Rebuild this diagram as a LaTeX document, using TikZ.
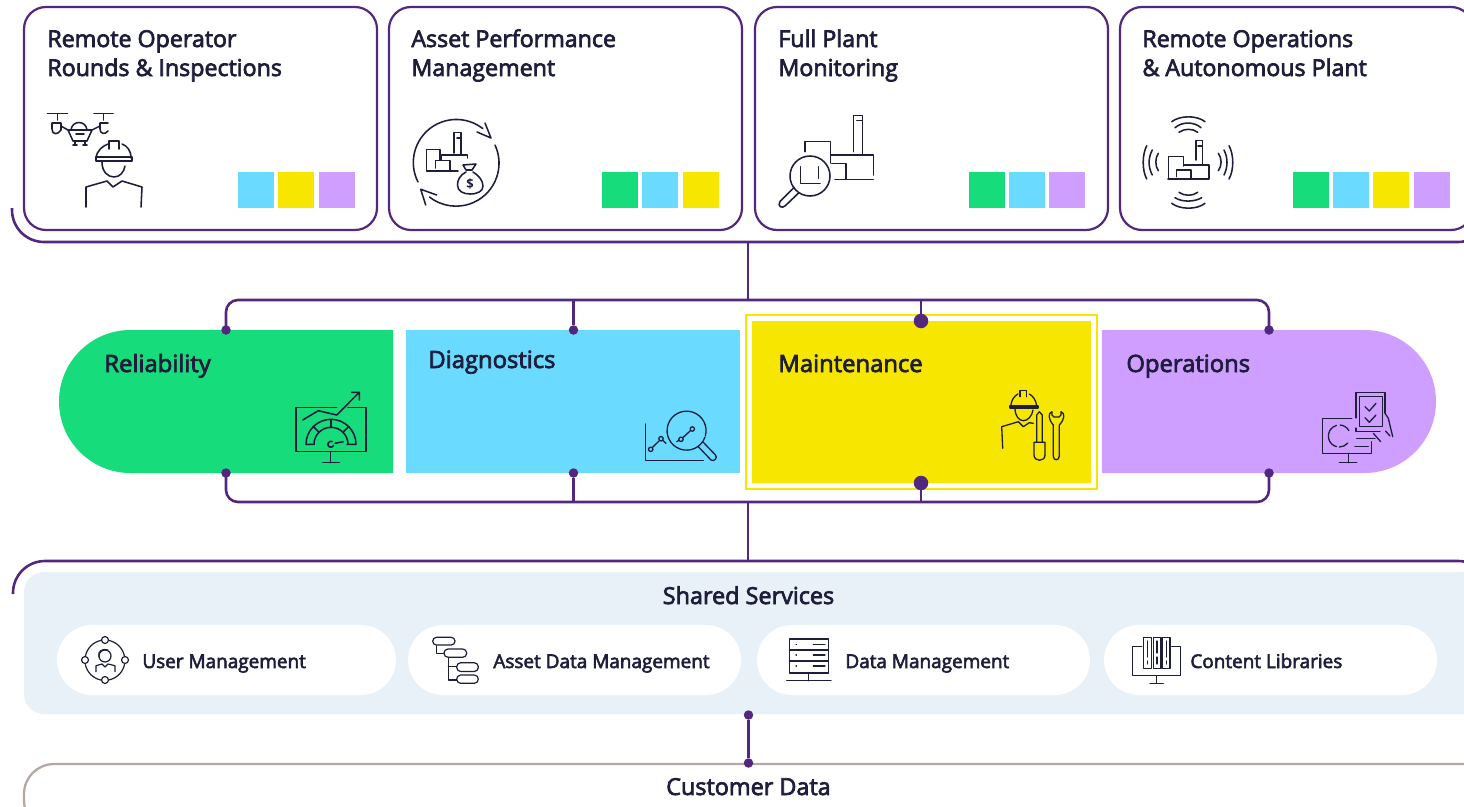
\documentclass[tikz,border=0pt]{standalone}
\usepackage{fontspec}
\usetikzlibrary{shapes.misc,positioning}
\setmainfont{Open Sans}
\newfontfamily\labf[FakeBold=3]{Open Sans}
\definecolor{vio}{HTML}{52287F}
\definecolor{ink}{HTML}{1E1E3C}
\definecolor{cgreen}{HTML}{16DC7B}
\definecolor{ccyan}{HTML}{6BDAFF}
\definecolor{cyel}{HTML}{F6E600}
\definecolor{cpur}{HTML}{CF9FFF}
\definecolor{cshare}{HTML}{E8F1F7}
\definecolor{ctaupe}{HTML}{B4A8A4}
\tikzset{
 card/.style={draw=vio,line width=2.2pt,fill=white,rounded corners=22pt,minimum width=353pt,minimum height=223pt,inner sep=0pt},
 swatch/.style={minimum width=36pt,minimum height=36pt,inner sep=0pt},
 band/.style={minimum width=334pt,minimum height=143pt,inner sep=0pt},
 pill/.style={fill=white,rounded rectangle,minimum height=70pt,inner sep=0pt},
 wire/.style={draw=vio,line width=2.6pt},
 dotS/.style={circle,fill=vio,minimum size=9.5pt,inner sep=0pt},
 dotL/.style={circle,fill=vio,minimum size=14.5pt,inner sep=0pt},
 head/.style={anchor=base west,xshift=-0.8pt,text=ink,font=\labf\fontsize{23.2pt}{26pt}\selectfont,inner sep=0pt},
 bandhead/.style={anchor=base west,xshift=-0.8pt,text=ink,font=\labf\fontsize{23.8pt}{26pt}\selectfont,inner sep=0pt},
 sub/.style={anchor=base west,xshift=-0.8pt,text=ink,font=\labf\fontsize{18.95pt}{22pt}\selectfont,inner sep=0pt},
 mid/.style={anchor=base,text=ink,font=\labf\fontsize{23.4pt}{26pt}\selectfont,inner sep=0pt},
 icon/.style={draw=ink,line width=1.55pt,line cap=round,line join=round},
 iconmid/.style={draw=ink,line width=1.3pt,line cap=round,line join=round},
 iconthin/.style={draw=ink,line width=1.2pt,line cap=round,line join=round},
}
\begin{document}
\begin{tikzpicture}[x=1pt,y=-1pt]
\useasboundingbox (0,0) rectangle (1464,806);
\clip (0,0) rectangle (1464,806);
\fill[white] (0,0) rectangle (1464,806);

% top bracket
\coordinate (tbL) at (12,208);
\coordinate (tbC) at (12,242);
\coordinate (tbE) at (1490,242);
\coordinate (tbR) at (1490,208);
\coordinate (tbT) at (748,242);
\draw[wire,rounded corners=32pt] (tbL) -- (tbC) -- (tbE) -- (tbR);
% cards
\node[card] (c1) at (200.5,118.5) {};
\node[card] (c2) at (565.5,118.5) {};
\node[card] (c3) at (931.5,118.5) {};
\node[card] (c4) at (1296.5,118.5) {};
\node[head] (t1a) at (48,47) {Remote Operator};
\node[head] (t1b) at (48,76) {Rounds \& Inspections};
\node[head] (t2a) at (412,47) {Asset Performance};
\node[head] (t2b) at (412,76) {Management};
\node[head] (t3a) at (779,47) {Full Plant};
\node[head] (t3b) at (779,76) {Monitoring};
\node[head] (t4a) at (1143,47) {Remote Operations};
\node[head] (t4b) at (1143,76) {\& Autonomous Plant};
% swatches
\node[swatch,fill=ccyan] (s11) at (256,190) {};
\node[swatch,fill=cyel] (s12) at (296,190) {};
\node[swatch,fill=cpur] (s13) at (337,190) {};
\node[swatch,fill=cgreen] (s21) at (620,190) {};
\node[swatch,fill=ccyan] (s22) at (660,190) {};
\node[swatch,fill=cyel] (s23) at (701,190) {};
\node[swatch,fill=cgreen] (s31) at (987,190) {};
\node[swatch,fill=ccyan] (s32) at (1027,190) {};
\node[swatch,fill=cpur] (s33) at (1067,190) {};
\node[swatch,fill=cgreen] (s41) at (1310.5,190) {};
\node[swatch,fill=ccyan] (s42) at (1351,190) {};
\node[swatch,fill=cyel] (s43) at (1391,190) {};
\node[swatch,fill=cpur] (s44) at (1432,190) {};

% bands
\node[band,fill=cgreen,rounded rectangle,rounded rectangle east arc=none] (b1) at (226,401.5) {};
\node[band,fill=ccyan] (b2) at (573,401.5) {};
\node[draw=cyel,line width=1.8pt,fill=white,minimum width=351pt,minimum height=174pt,inner sep=0pt] (b3f) at (921.5,402) {};
\node[fill=cyel,minimum width=339pt,minimum height=162pt,inner sep=0pt] (b3) at (921.5,402) {};
\node[band,fill=cpur,rounded rectangle,rounded rectangle west arc=none] (b4) at (1269,401.5) {};
\node[bandhead] (l1) at (105,372) {Reliability};
\node[bandhead] (l2) at (429,368) {Diagnostics};
\node[bandhead] (l3) at (779,372) {Maintenance};
\node[bandhead] (l4) at (1127,372) {Operations};

% buses
\coordinate (u0) at (748,300);
\coordinate (u2) at (573.5,300);
\coordinate (u3) at (921,300);
\coordinate (d0) at (748,502);
\coordinate (d2) at (573.5,502);
\coordinate (d3) at (921,502);
\node[dotS] (a1) at (226,330) {};
\node[dotS] (a2) at (573.5,330) {};
\node[dotL] (a3) at (921,321) {};
\node[dotS] (a4) at (1269,330) {};
\node[dotS] (e1) at (226,473) {};
\node[dotS] (e2) at (573.5,473) {};
\node[dotL] (e3) at (921,483) {};
\node[dotS] (e4) at (1269,473) {};
\draw[wire,rounded corners=12pt] (a1.center) |- (u0) -| (a4.center);
\draw[wire,rounded corners=12pt] (e1.center) |- (d0) -| (e4.center);
\draw[wire] (tbT) -- (u0);
\draw[wire] (u2) -- (a2);
\draw[wire] (u3) -- (a3);
\draw[wire] (d2) -- (e2);
\draw[wire] (d3) -- (e3);

% shared
\coordinate (sbL) at (13,594);
\coordinate (sbC) at (13,561);
\coordinate (sbE) at (1490,561);
\coordinate (sbR) at (1490,594);
\coordinate (sbT) at (748,561);
\draw[wire,rounded corners=32pt] (sbL) -- (sbC) -- (sbE) -- (sbR);
\draw[wire] (d0) -- (sbT);
\node[fill=cshare,rounded corners=20pt,minimum width=1470pt,minimum height=142pt,inner sep=0pt] (sh) at (759,643) {};
\node[mid] (shT) at (748.5,604) {Shared Services};
\node[pill,minimum width=339pt] (p1) at (226.5,660) {};
\node[pill,minimum width=333pt] (p2) at (574.5,660) {};
\node[pill,minimum width=333pt] (p3) at (923.5,660) {};
\node[pill,minimum width=333pt] (p4) at (1270.5,660) {};
\node[sub] (q1) at (143,668) {User Management};
\node[sub] (q2) at (494,668) {Asset Data Management};
\node[sub] (q3) at (846,668) {Data Management};
\node[sub] (q4) at (1191,668) {Content Libraries};
% customer
\node[draw=ctaupe,line width=2.3pt,fill=white,rounded corners=30pt,minimum width=1470pt,minimum height=66pt,inner sep=0pt] (cu) at (759,797) {};
\node[mid] (cuT) at (748.5,795) {Customer Data};
\node[dotS] (f1) at (748.5,715) {};
\node[dotS] (f2) at (748.5,763) {};
\draw[wire] (f1) -- (f2);

% ---------- icon 1: drone and worker
\path[icon] (47.5,113.5) -- (67.5,113.5) (94,113.5) -- (113,113.5) (57.5,114) -- (57.5,120) (103.5,114) -- (103.5,120);
\path[icon] (61,123) -- (52,123) -- (52,129) .. controls (52,135) and (58,135) .. (61,130) -- (61,123);
\path[icon] (108,123) -- (100,123) -- (100,129) .. controls (100,134) and (105,135) .. (108,131);
\path[icon] (61,126) -- (68,130) -- (92,130) -- (100,126);
\path[icon] (68,130) -- (73,141) -- (87,141) -- (92,130);
\path[icon] (71,130) .. controls (72,120) and (86,120) .. (87,130);
\path[icon] (76,134) -- (84,134) (75,141) -- (75,145) (73,145) -- (77,145) (85,141) -- (85,145) (83,145) -- (87,145);
\path[icon] (109,149) -- (109,141) -- (119,141) -- (119,149);
\path[icon] (96,158) .. controls (97,150) and (103,146) .. (108,144);
\path[icon] (122,144) .. controls (127,146) and (131,150) .. (131,158);
\path[icon] (96,157) rectangle (132,161);
\path[icon] (102,162) .. controls (102,172) and (108,177) .. (114,177) .. controls (120,177) and (124,172) .. (125,166);
\path[icon] (86,207) -- (86,187) -- (107,181) -- (113,187) -- (122,181) -- (142,187) -- (141,207);

% ---------- icon 2: cycle, plant, bag
\path[icon] (418,182) arc[start angle=153,end angle=308,radius=43];
\path[icon] (485,123) -- (491,138) -- (477,132);
\path[icon] (495,145) arc[start angle=-25,end angle=128,radius=43];
\path[icon] (436.7,195) -- (420.7,189.3) -- (425.7,205);
\path[icon] (458,171) -- (426.7,171) -- (426.7,149.3) -- (440,149.3) -- (440,160);
\path[icon] (435.7,168) -- (435.7,160.7) -- (450,160.7) -- (450,171);
\path[icon] (454,153) -- (454,132.7) -- (461,132.7) -- (461,155);
\path[icon] (441.7,160) -- (441.7,155) -- (467.3,155) -- (467.3,158) (457,138) -- (461,138);
\path[icon] (463,165) -- (476,164) -- (472,170) -- (466,170) -- (463,165);
\path[icon] (466,172) .. controls (460,175) and (457.5,180) .. (457.5,185) .. controls (457.5,191) and (463,194) .. (470,194) .. controls (478,194) and (483,191) .. (483,186) .. controls (483,180) and (478,175) .. (473,172);
\node[text=ink,font=\fontsize{13pt}{13pt}\selectfont\bfseries,inner sep=0pt] (bag) at (470,184) {\$};

% ---------- icon 3: plant and magnifier
\path[icon] (853.3,151.7) -- (853.3,115.7) -- (862.3,115.7) -- (862.3,154) (856.7,120.7) -- (862,120.7);
\path[icon] (805,151.7) -- (805,141.7) -- (830.7,141.7) -- (830.7,163);
\path[icon] (830.7,155) -- (873.3,155) -- (873.3,175);
\path[icon] (831.7,163.3) -- (846,163.3) -- (846,179.3) (835,179.3) -- (873.3,179.3);
\path[icon] (810,176) circle[radius=20];
\path[icon] (800.7,166.7) -- (800.7,183.3) -- (820,183.3) (818.3,166.7) -- (818.3,178.3);
\path[icon] (794.3,187.3) -- (780,201.5) .. controls (777,206) and (782,209) .. (785,206) -- (798.3,193.3);

% ---------- icon 4: plant and waves
\path[icon] (1168.3,178.5) -- (1168.3,156.7) -- (1183.3,156.7) -- (1183.3,166);
\path[icon] (1168,179) -- (1209,179) -- (1209,165) -- (1184.3,165);
\path[icon] (1176.7,176.7) -- (1176.7,170) -- (1191,170) -- (1191,178);
\path[icon] (1196,160) -- (1196,140.7) -- (1202.3,140.7) -- (1202.3,164) (1198,146) -- (1202,146);
\path[icon] (1171.7,121.7) .. controls (1180,115.2) and (1197,115.2) .. (1205,121.7)
 (1175,127.7) .. controls (1182,121.5) and (1194,121.5) .. (1201,127.7)
 (1179,132.3) .. controls (1184,128.3) and (1193,128.3) .. (1197.7,132.3)
 (1179,192.3) .. controls (1184,196.2) and (1193,196.2) .. (1197.7,192.3)
 (1175,197.7) .. controls (1182,202.2) and (1194,202.2) .. (1201.7,197.7)
 (1171.7,203.3) .. controls (1180,209.8) and (1197,209.8) .. (1205,203.3)
 (1146.7,145.7) .. controls (1142,155) and (1142,170) .. (1146.7,179)
 (1152.3,150) .. controls (1148,158) and (1148,167) .. (1152.3,175)
 (1158.3,153.3) .. controls (1155,158) and (1155,166) .. (1158.3,170.7)
 (1218.3,153.3) .. controls (1222,158) and (1222,166) .. (1218.3,170.7)
 (1224,150) .. controls (1228,158) and (1228,167) .. (1224,175)
 (1229,145.7) .. controls (1234,155) and (1234,170) .. (1229,179);

% ---------- icon 5: reliability
\path[icon] (336.7,407.3) -- (296,407.3) -- (296,451.7) -- (366,451.7) -- (366,407.3) -- (348,407.3);
\path[icon] (330.7,451.7) -- (330.7,462.7) (322.7,462.7) -- (339.3,462.7);
\path[icon] (302.7,420) -- (318.3,410.7) -- (336.7,415) -- (358.3,393.3) (351.7,392.3) -- (359.3,392.3) -- (359.3,400);
\path[icon] (306,444.3) arc[start angle=180,end angle=360,radius=25] (356,444.3) -- (347,444.3);
\path[icon] (314,444.3) arc[start angle=180,end angle=360,radius=17];
\path[icon] (306,444.3) -- (314,444.3) (331,419.3) -- (331,427.3) (313.3,426.6) -- (319,432.3) (348.7,426.6) -- (343,432.3);
\path[icon] (335,443.3) -- (343.3,441.7);
\path[icon] (333.5,445.5) arc[start angle=25,end angle=300,radius=3];

% ---------- icon 6: diagnostics
\path[iconmid] (645.7,424) -- (645.7,460.7) -- (703.3,460.7);
\path[iconmid] (650.7,449.3) circle[radius=2.2] (661,438.7) circle[radius=2.2] (652.3,447.5) -- (659.5,440.5) (662.6,440.3) -- (666,443.3);
\path[iconmid] (705,437) arc[start angle=19,end angle=375,radius=19.5];
\path[iconmid] (681,439.3) circle[radius=2.2] (692.3,429) circle[radius=2.2] (682.7,437.8) -- (690.6,430.5) (676.7,441.7) -- (678.9,440.3);
\path[iconmid] (698.3,446.7) -- (711,460) .. controls (714,462) and (718,458) .. (715.5,455) -- (702.7,441.7);

% ---------- icon 7: maintenance
\path[iconmid] (1020,396.7) -- (1020,390.7) -- (1026.7,390.7) -- (1026.7,396.7);
\path[iconmid] (1010.7,406) .. controls (1011.5,400) and (1014,396) .. (1018,394) (1029.3,394) .. controls (1033,396) and (1036,400) .. (1036.7,406);
\path[iconmid] (1010,406) rectangle (1038,408);
\path[iconmid] (1015,408.3) .. controls (1015,416) and (1019,420.7) .. (1023.3,420.7) .. controls (1028,420.7) and (1032,416) .. (1033,410);
\path[iconmid] (1002.7,448.3) -- (1001.7,426.7) -- (1018.3,421.7) -- (1023.3,426.7) -- (1029.3,422.7) -- (1033.3,423.3);
\path[iconmid] (1036.7,441.7) -- (1036.7,415) -- (1039.3,411.7) -- (1042.3,415) -- (1042.3,441.7);
\path[iconmid] (1034,442.3) -- (1045,442.3) -- (1045,455) .. controls (1045,462) and (1034,462) .. (1034,455) -- (1034,442.3);
\path[iconmid] (1052,411.7) .. controls (1048,413) and (1048,419) .. (1053.3,425) -- (1053.3,456) .. controls (1053.3,461) and (1059.3,461) .. (1059.3,456) -- (1059.3,425) .. controls (1065,419) and (1065,413) .. (1061,411.7) -- (1061,415) -- (1059,417) -- (1054,417) -- (1052,415) -- cycle;

% ---------- icon 8: operations
\path[iconmid] (1356,418) -- (1356,392.3) -- (1385,392.3) -- (1385,413) (1356,428) -- (1356,431.7) -- (1380,431.7);
\path[iconmid] (1359.3,396.7) -- (1382.7,396.7) -- (1382.7,426.7) -- (1359.3,426.7) -- cycle;
\path[iconmid] (1365,406.7) -- (1369.3,411) -- (1376,403.3) (1365,417.7) -- (1369.3,422.3) -- (1376,415);
\path[iconmid] (1385,413.3) -- (1388.3,418.3) -- (1392.7,436.7) (1385.5,431) -- (1390,436) (1373.3,433.3) -- (1380.7,441.7);
\path[iconmid] (1351.7,418.3) -- (1322.3,418.3) -- (1322.3,453.3) -- (1371.7,453.3) -- (1371.7,441.7);
\coordinate (oc) at (1339.3,436);
\path[iconmid] (oc) +(255:11) arc[start angle=255,end angle=105,radius=11];
\path[iconmid] (oc) +(275:11) arc[start angle=275,end angle=330,radius=11];
\path[iconmid] (oc) +(40:11) arc[start angle=40,end angle=90,radius=11];
\path[iconmid] (1356.7,438.3) -- (1375,438.3) (1355,446.7) -- (1368.3,446.7);
\path[iconmid] (1348.3,453.3) -- (1348.3,462.7) (1339.3,462.7) -- (1356.7,462.7);

% ---------- icon 9: user management
\path[iconthin] (105,640) circle[radius=3.5] (105,680) circle[radius=3.5] (85,660) circle[radius=3.5] (125,660) circle[radius=3.5];
\path[iconthin] (109,640.5) arc[start angle=-78,end angle=-12,radius=20] (124.5,664.5) arc[start angle=12,end angle=78,radius=20] (100.8,680) arc[start angle=102,end angle=168,radius=20] (85.5,655.8) arc[start angle=192,end angle=258,radius=20];
\path[iconthin] (105,656) circle[radius=6];
\path[iconthin] (99,657) .. controls (97,651) and (103,648) .. (108,650);
\path[iconthin] (96,671.7) -- (96,665.7) -- (102,664) -- (105,667) -- (108,664) -- (115,665.7) -- (115,671.7);

% ---------- icon 10: asset data
\path[iconthin,rounded corners=3.8pt] (432.7,637.3) rectangle (455,645);
\path[iconthin,rounded corners=4pt] (444,649) rectangle (466.7,657.3);
\path[iconthin,rounded corners=4pt] (456.7,662.7) rectangle (478.3,671.5);
\path[iconthin,rounded corners=4pt] (456.7,675) rectangle (478.3,683.3);
\path[iconthin] (436.7,645.7) -- (436.7,653.3) -- (444,653.3) (448.3,657.3) -- (448.3,680) -- (456.7,680) (448.3,666.7) -- (456.7,666.7);

% ---------- icon 11: data management
\path[iconthin] (789.3,639) rectangle (828.3,673) (789.3,650) -- (828.3,650) (789.3,661) -- (828.3,661);
\path[iconthin] (796,644.3) -- (796.5,644.3) (796,655) -- (796.5,655) (796,666) -- (796.5,666) (813.3,644.3) -- (825,644.3) (813.3,655) -- (825,655) (813.3,666) -- (825,666);
\path[iconthin] (808.3,673) -- (808.3,680.7) (786.7,680.7) -- (831,680.7);

% ---------- icon 12: content libraries
\path[iconthin] (1141.7,646.7) -- (1132.7,646.7) -- (1132.7,675.7) -- (1180.7,675.7) -- (1180.7,646.7) -- (1171.7,646.7);
\path[iconthin] (1156.7,675.7) -- (1156.7,683.3) (1150,683.3) -- (1163.3,683.3);
\path[iconthin] (1143.3,637.3) rectangle (1151.7,668.3) (1153.3,637.3) rectangle (1161,668.3) (1162.7,637.3) rectangle (1170,668.3);
\path[iconthin] (1147.5,641) -- (1147.5,657) (1147.5,661) -- (1147.5,664) (1157,641) -- (1157,653) (1157,657) -- (1157,664) (1166.3,641) -- (1166.3,657) (1166.3,661) -- (1166.3,664);
\end{tikzpicture}
\end{document}
